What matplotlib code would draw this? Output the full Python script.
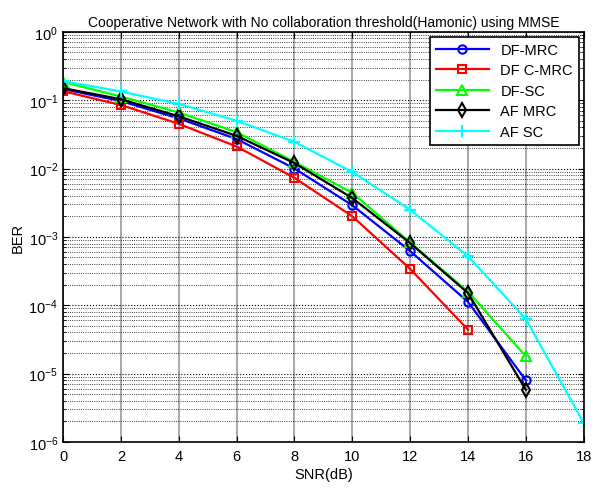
import matplotlib.pyplot as plt
from matplotlib.ticker import LogLocator, NullFormatter

plt.rcParams['font.family'] = ['Liberation Sans', 'DejaVu Sans']

snr = [0, 2, 4, 6, 8, 10, 12, 14, 16]
snr_afsc = [0, 2, 4, 6, 8, 10, 12, 14, 16, 18]
df_mrc = [0.145, 0.097, 0.054, 0.027, 0.010, 0.0029, 0.00062, 0.000112, 8.0e-6]
df_cmrc = [0.135, 0.085, 0.045, 0.021, 0.0073, 0.0020, 0.00034, 4.4e-5]
df_sc = [0.185, 0.113, 0.066, 0.034, 0.0125, 0.0044, 0.00083, 0.000158, 1.8e-5]
af_mrc = [0.150, 0.103, 0.058, 0.030, 0.012, 0.0037, 0.00081, 0.000151, 5.8e-6]
af_sc = [0.190, 0.134, 0.088, 0.050, 0.0245, 0.0089, 0.0025, 0.00052, 6.3e-5, 1.9e-6]

fig = plt.figure(figsize=(5.95, 4.89), dpi=100)
ax = fig.add_axes([0.106, 0.094, 0.875, 0.839])

ax.semilogy(snr, df_mrc, '-o', color='blue', lw=1.6, ms=6, mfc='none', mew=1.5, label='DF-MRC')
ax.semilogy(snr[:8], df_cmrc, '-s', color='red', lw=1.6, ms=6, mfc='none', mew=1.5, label='DF C-MRC')
ax.semilogy(snr, df_sc, '-^', color='#00ff00', lw=1.6, ms=7, mfc='none', mew=1.5, label='DF-SC')
ax.semilogy(snr, af_mrc, '-d', color='black', lw=1.6, ms=7, mfc='none', mew=1.5, label='AF MRC')
ax.semilogy(snr_afsc, af_sc, '-+', color='cyan', lw=1.6, ms=8, mew=1.5, label='AF SC')

ax.set_xlim(0, 18)
ax.set_ylim(1e-6, 1)
ax.set_xticks(range(0, 19, 2))
ax.yaxis.set_major_locator(LogLocator(base=10, numticks=10))
ax.yaxis.set_minor_locator(LogLocator(base=10, subs=range(2, 10), numticks=20))
ax.yaxis.set_minor_formatter(NullFormatter())
ax.tick_params(direction='in', which='both', top=True, right=True, labelsize=10.5)
ax.tick_params(which='major', length=4)
ax.tick_params(axis='x', which='major', pad=5)
ax.tick_params(which='minor', length=2)
ax.grid(True, which='major', axis='x', color='#999999', ls='-', lw=1.2)
ax.grid(True, which='major', axis='y', color='black', ls=':', lw=0.8)
ax.grid(True, which='minor', axis='y', color='black', ls=':', lw=0.6)
for s in ax.spines.values():
    s.set_linewidth(1.2)

ax.set_xlabel('SNR(dB)', fontsize=10.5, labelpad=3)
ax.set_ylabel('BER', fontsize=10.5, labelpad=3)
ax.set_title('Cooperative Network with No collaboration threshold(Hamonic) using MMSE',
             fontsize=10, pad=4)

leg = ax.legend(loc='upper right', fontsize=10.5, fancybox=False, framealpha=1,
                edgecolor='black', borderaxespad=0.35, handlelength=3.6, labelspacing=0.45)
leg.get_frame().set_linewidth(1.2)

fig.savefig('out.png', dpi=100)
